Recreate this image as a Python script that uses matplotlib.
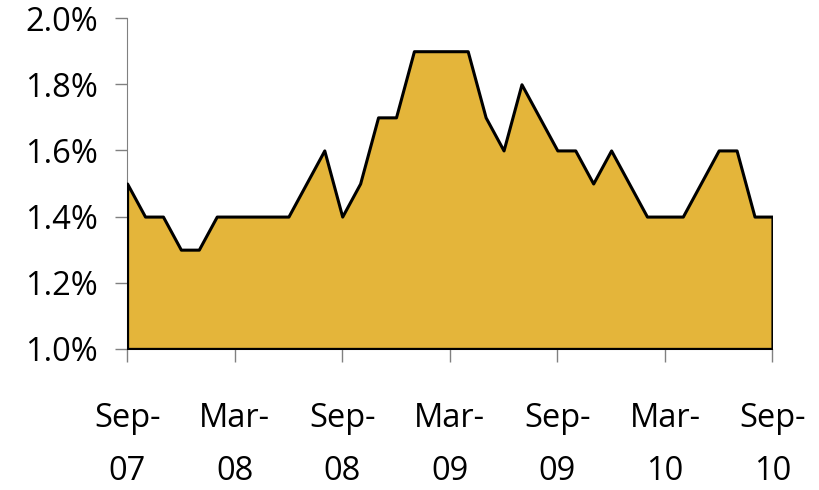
import matplotlib
matplotlib.use('Agg')
import matplotlib.pyplot as plt
from matplotlib.ticker import FuncFormatter

# monthly values, Sep-07 .. Sep-10 (percent)
months = ['Sep-07', 'Oct-07', 'Nov-07', 'Dec-07', 'Jan-08', 'Feb-08', 'Mar-08', 'Apr-08', 'May-08',
          'Jun-08', 'Jul-08', 'Aug-08', 'Sep-08', 'Oct-08', 'Nov-08', 'Dec-08', 'Jan-09', 'Feb-09',
          'Mar-09', 'Apr-09', 'May-09', 'Jun-09', 'Jul-09', 'Aug-09', 'Sep-09', 'Oct-09', 'Nov-09',
          'Dec-09', 'Jan-10', 'Feb-10', 'Mar-10', 'Apr-10', 'May-10', 'Jun-10', 'Jul-10', 'Aug-10',
          'Sep-10']
values = [1.5, 1.4, 1.4, 1.3, 1.3, 1.4, 1.4, 1.4, 1.4, 1.4, 1.5, 1.6, 1.4, 1.5, 1.7, 1.7, 1.9, 1.9,
          1.9, 1.9, 1.7, 1.6, 1.8, 1.7, 1.6, 1.6, 1.5, 1.6, 1.5, 1.4, 1.4, 1.4, 1.5, 1.6, 1.6, 1.4,
          1.4]
tick_labels = ['Sep-\n07', 'Mar-\n08', 'Sep-\n08', 'Mar-\n09', 'Sep-\n09', 'Mar-\n10', 'Sep-\n10']
y_ticks = [1.0, 1.2, 1.4, 1.6, 1.8, 2.0]

plt.rcParams['font.family'] = ['Open Sans', 'DejaVu Sans']

fig = plt.figure(figsize=(8.2, 4.9), dpi=100)
ax = fig.add_axes([0.155, 0.288, 0.787, 0.675])

x = list(range(len(values)))
ax.fill_between(x, values, 1.0, facecolor='#E4B53A', edgecolor='black', linewidth=2.2, zorder=3)

ax.set_xlim(0, len(values) - 1)
ax.set_ylim(1.0, 2.0)
ax.set_yticks(y_ticks)
ax.yaxis.set_major_formatter(FuncFormatter(lambda v, p: f'{v:.1f}%'))
ax.set_xticks(x[::6])
ax.set_xticklabels(tick_labels, linespacing=1.8)

for s in ['top', 'right']:
    ax.spines[s].set_visible(False)
for s in ['left', 'bottom']:
    ax.spines[s].set_color('#808080')

ax.tick_params(axis='both', direction='out', length=9, width=1, color='#808080',
               labelsize=23.5, labelcolor='black')
ax.tick_params(axis='y', pad=12)
ax.tick_params(axis='x', pad=29)

fig.savefig('out.png', dpi=100)
